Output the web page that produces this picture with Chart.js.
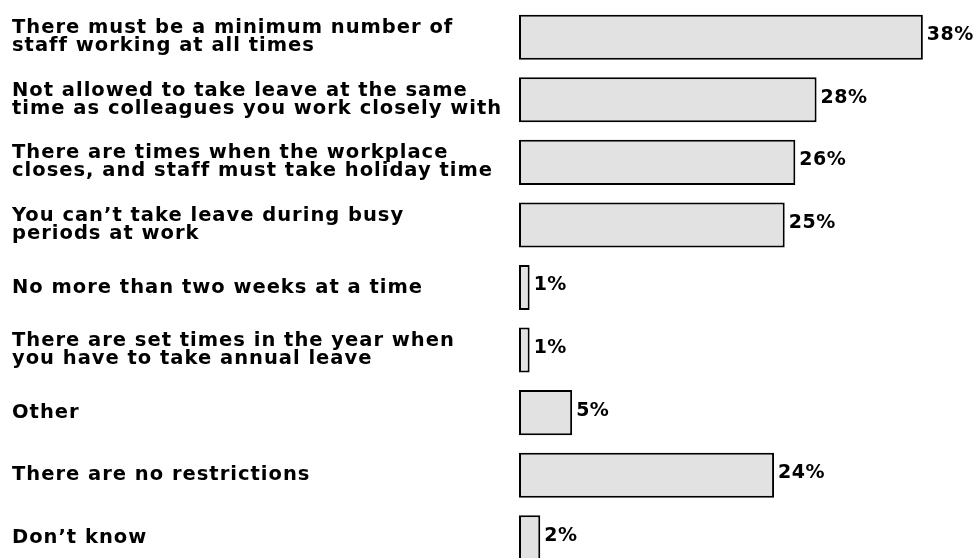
<!DOCTYPE html>
<html>
<head>
<meta charset="utf-8">
<script src="https://cdn.jsdelivr.net/npm/chart.js@4"></script>
<style>
  html, body { margin: 0; padding: 0; background: #fff; overflow: hidden; }
  #wrap { width: 976px; height: 569px; }
</style>
</head>
<body>
<div id="wrap"><canvas id="grafico"></canvas></div>
<script>
// categorias (linhas quebradas como no original)
const categorias = [
    ["There must be a minimum number of", "staff working at all times"],
    ["Not allowed to take leave at the same", "time as colleagues you work closely with"],
    ["There are times when the workplace", "closes, and staff must take holiday time"],
    ["You can\u2019t take leave during busy", "periods at work"],
    "No more than two weeks at a time",
    ["There are set times in the year when", "you have to take annual leave"],
    "Other",
    "There are no restrictions",
    "Don\u2019t know"
];
const valores = [38, 28, 26, 25, 1, 1, 5, 24, 2];
const rotulos = ["38%", "28%", "26%", "25%", "1%", "1%", "5%", "24%", "2%"];

const fonte = '"DejaVu Sans", sans-serif';
const espaco = "1px";

// espaçamento entre letras, como no gráfico original
const espacamento = {
    id: "espacamento",
    beforeLayout(chart) { chart.ctx.letterSpacing = espaco; },
    beforeDraw(chart) { chart.ctx.letterSpacing = espaco; }
};

// rótulos de valor no fim de cada barra
const rotulosValor = {
    id: "rotulosValor",
    afterDatasetsDraw(chart) {
        const ctx = chart.ctx;
        ctx.save();
        ctx.letterSpacing = "0.5px";
        ctx.font = "bold 19px " + fonte;
        ctx.fillStyle = "#000";
        ctx.textAlign = "left";
        ctx.textBaseline = "middle";
        chart.getDatasetMeta(0).data.forEach((barra, i) => {
            ctx.fillText(rotulos[i], barra.x + 4, barra.y - 2);
        });
        ctx.restore();
    }
};

new Chart(document.getElementById("grafico").getContext("2d"), {
    type: "bar",
    data: {
        labels: categorias,
        datasets: [{
            data: valores,
            backgroundColor: "#e2e2e2",
            borderColor: "#000",
            borderWidth: 2,
            borderSkipped: false,
            categoryPercentage: 0.8,
            barPercentage: 0.9
        }]
    },
    options: {
        indexAxis: "y",
        responsive: true,
        maintainAspectRatio: false,
        animation: false,
        layout: { padding: { left: 12, top: 6, right: 0, bottom: 0 } },
        plugins: {
            legend: { display: false },
            tooltip: { enabled: false }
        },
        scales: {
            x: {
                display: false,
                min: 0,
                max: 43
            },
            y: {
                grid: { display: false },
                border: { display: false },
                afterFit(scale) {
                    scale.width = 507;
                    scale.paddingTop = 0;
                    scale.paddingBottom = 0;
                },
                ticks: {
                    crossAlign: "far",
                    color: "#000",
                    padding: 0,
                    font: { family: fonte, size: 19.5, weight: "bold", lineHeight: 0.92 }
                }
            }
        }
    },
    plugins: [espacamento, rotulosValor]
});
</script>
</body>
</html>
